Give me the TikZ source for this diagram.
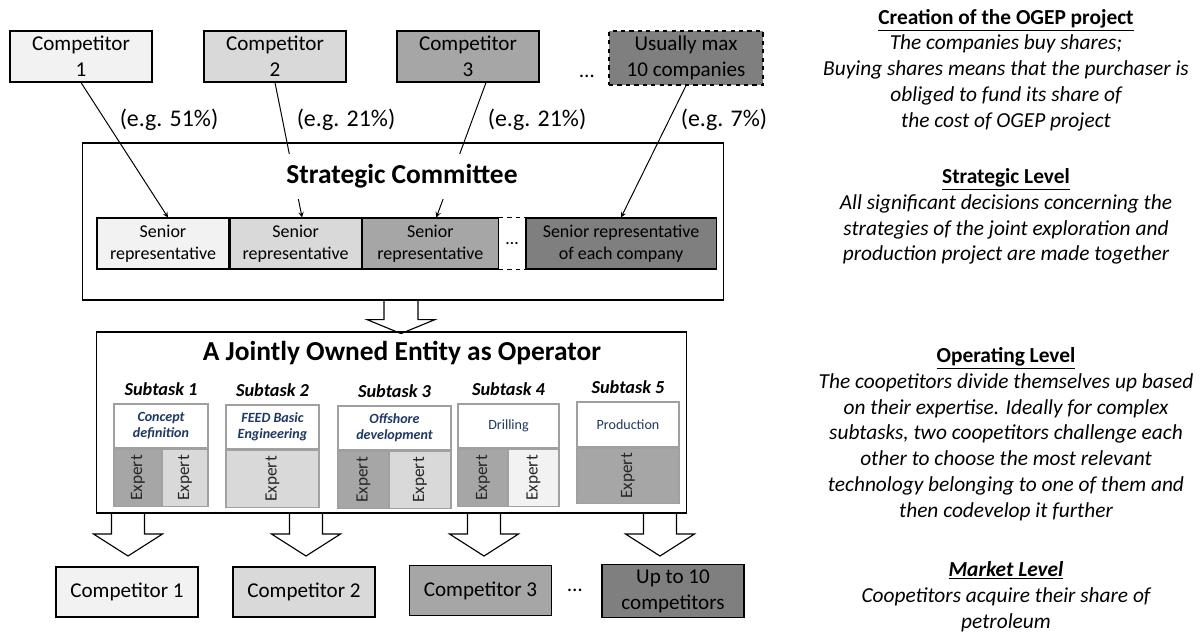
\documentclass[tikz,border=0pt]{standalone}
\usepackage{fontspec}
\setmainfont{Carlito}
\usepackage{xcolor}
\usepackage{tikz}
\usetikzlibrary{positioning}
\definecolor{shadeA}{HTML}{F2F2F2}
\definecolor{shadeB}{HTML}{D9D9D9}
\definecolor{shadeC}{HTML}{A6A6A6}
\definecolor{shadeD}{HTML}{7F7F7F}
\definecolor{taskblue}{HTML}{1F3864}
\definecolor{edgegray}{HTML}{A0A0A0}

\begin{document}
\begin{tikzpicture}[
    x=0.025cm, y=-0.025cm,
    box/.style={rectangle, draw, line width=0.8pt, align=center},
    comp/.style={box, minimum width=3.55cm, minimum height=1.275cm, font=\fontsize{15}{18.5}\selectfont},
    rep/.style={box, minimum height=1.275cm, inner sep=1pt, font=\fontsize{12.8}{15.6}\selectfont},
    share/.style={font=\fontsize{17}{20}\selectfont},
    heading/.style={font=\fontsize{19.5}{23}\selectfont\bfseries},
    subtask/.style={font=\fontsize{13}{15}\selectfont\bfseries\itshape},
    task/.style={rectangle, draw=edgegray, line width=1pt, fill=white, text=taskblue, align=center, minimum height=1.1cm, inner sep=1pt, font=\fontsize{10}{11.5}\selectfont\bfseries\itshape},
    expert/.style={rectangle, draw=edgegray, line width=1pt, minimum height=1.425cm, inner sep=0pt, text=black!85, font=\fontsize{12.3}{14}\selectfont},
    note/.style={align=center, font=\fontsize{15.2}{18.3}\selectfont\itshape},
    arrow/.style={-stealth, line width=0.7pt},
    hollow/.style={draw, line width=0.8pt, line join=miter}
]
\useasboundingbox (0,0) rectangle (1203,633);

\node[comp, fill=shadeA] (c1) at (81,56.5) {Competitor\\ 1};
\node[comp, fill=shadeB] (c2) at (275,56.5) {Competitor\\ 2};
\node[comp, fill=shadeC] (c3) at (468,56.5) {Competitor\\ 3};
\node[comp, fill=shadeD, dashed, minimum width=3.85cm, minimum height=1.35cm] (cmax) at (686,58) {Usually max\\ 10 companies};
\node[font=\fontsize{15}{18}\selectfont] (topdots) at (587,76) {…};

\node[share] (p1) at (169,120) {(e.g. 51\%)};
\node[share] (p2) at (346,120) {(e.g. 21\%)};
\node[share] (p3) at (537,120) {(e.g. 21\%)};
\node[share] (p4) at (724,120) {(e.g. 7\%)};

\node[box, minimum width=16cm, minimum height=3.925cm] (sc) at (403,221.5) {};
\node[rep, fill=shadeA, minimum width=3.3cm] (sr1) at (163,243.5) {Senior\\ representative};
\node[rep, fill=shadeB, minimum width=3.275cm, right=0pt of sr1] (sr2) {Senior\\ representative};
\node[rep, fill=shadeC, minimum width=3.4cm, right=0pt of sr2] (sr3) {Senior\\ representative};
\node[minimum width=0.65cm, minimum height=1.275cm, inner sep=0pt, right=0pt of sr3, font=\fontsize{12.8}{15}\selectfont] (repdots) {…};
\node[rep, fill=shadeD, minimum width=4.75cm, right=0pt of repdots] (sr4) {Senior representative\\ of each company};
\draw[dashed, line width=0.8pt] (sr3.north east) -- (sr4.north west) (sr3.south east) -- (sr4.south west);

\draw[arrow] (c1.south) -- ([xshift=0.125cm]sr1.north);
\draw[arrow] (c2.south) -- ([xshift=0.16cm]sr2.north);
\draw[arrow] ([xshift=0.45cm]c3.south) -- ([xshift=0.15cm]sr3.north);
\draw[arrow] (cmax.south) -- (sr4.north);
\node[heading, fill=white, minimum height=1.125cm, inner xsep=2pt] (sctitle) at (402,176.5) {Strategic Committee};

\node[box, minimum width=14.725cm, minimum height=4.525cm] (op) at (391.5,422.5) {};
\node[heading] (optitle) at (402,353) {A Jointly Owned Entity as Operator};

\node[task, minimum width=2.35cm] (t1) at (161,426) {Concept\\ definition};
\node[subtask, above=2pt of t1] (s1) {Subtask 1};
\node[expert, fill=shadeC, minimum width=1.2cm, anchor=north west] (e1a) at (t1.south west) {\rotatebox{90}{Expert}};
\node[expert, fill=shadeB, minimum width=1.15cm, anchor=north east] (e1b) at (t1.south east) {\rotatebox{90}{Expert}};

\node[task, minimum width=2.325cm] (t2) at (272.5,427) {FEED Basic\\ Engineering};
\node[subtask, above=2pt of t2] (s2) {Subtask 2};
\node[expert, fill=shadeB, minimum width=2.325cm, anchor=north] (e2) at (t2.south) {\rotatebox{90}{Expert}};

\node[task, minimum width=2.825cm] (t3) at (394.5,428) {Offshore\\ development};
\node[subtask, above=2pt of t3] (s3) {Subtask 3};
\node[expert, fill=shadeC, minimum width=1.275cm, anchor=north west] (e3a) at (t3.south west) {\rotatebox{90}{Expert}};
\node[expert, fill=shadeB, minimum width=1.55cm, anchor=north east] (e3b) at (t3.south east) {\rotatebox{90}{Expert}};

\node[task, minimum width=2.525cm, font=\fontsize{10}{11.5}\selectfont] (t4) at (508.5,426) {Drilling};
\node[subtask, above=2pt of t4] (s4) {Subtask 4};
\node[expert, fill=shadeC, minimum width=1.25cm, anchor=north west] (e4a) at (t4.south west) {\rotatebox{90}{Expert}};
\node[expert, fill=shadeA, minimum width=1.275cm, anchor=north east] (e4b) at (t4.south east) {\rotatebox{90}{Expert}};

\node[task, minimum width=2.55cm, minimum height=1.125cm, font=\fontsize{10}{11.5}\selectfont] (t5) at (628,424.5) {Production};
\node[subtask, above=2pt of t5] (s5) {Subtask 5};
\node[expert, fill=shadeC, minimum width=2.55cm, minimum height=1.375cm, anchor=north] (e5) at (t5.south) {\rotatebox{90}{Expert}};

\draw[hollow] ([xshift=-0.475cm]sc.south) -- ++(0,19) -- ++(-17,0) -- ++(34,14) -- ++(34,-14) -- ++(-17,0) -- ++(0,-19);
\foreach \x in {128,306,484,660}
    \draw[hollow] (\x-16.5,513) -- ++(0,21) -- ++(-18,0) -- ++(34.5,22) -- ++(34.5,-22) -- ++(-18,0) -- ++(0,-21);

\node[comp, minimum height=1.25cm, fill=shadeA] (b1) at (127,592) {Competitor 1};
\node[comp, minimum height=1.25cm, fill=shadeB] (b2) at (304,592) {Competitor 2};
\node[comp, minimum height=1.25cm, fill=shadeC] (b3) at (480.5,590.5) {Competitor 3};
\node[font=\fontsize{15}{18}\selectfont] (botdots) at (575,590) {…};
\node[comp, minimum height=1.25cm, fill=shadeD] (b4) at (673,591) {Up to 10\\ competitors};

\node[note] (ncreate) at (1006,70) {\underline{\textup{\textbf{Creation of the OGEP project}}}\\ The companies buy shares;\\ Buying shares means that the purchaser is\\ obliged to fund its share of\\ the cost of OGEP project};
\node[note] (nstrat) at (1006,216.5) {\underline{\textup{\textbf{Strategic Level}}}\\ All significant decisions concerning the\\ strategies of the joint exploration and\\ production project are made together};
\node[note] (noper) at (1006,434) {\underline{\textup{\textbf{Operating Level}}}\\ The coopetitors divide themselves up based\\ on their expertise. Ideally for complex\\ subtasks, two coopetitors challenge each\\ other to choose the most relevant\\ technology belonging to one of them and\\ then codevelop it further};
\node[note] (nmarket) at (1006,596.5) {\underline{\textbf{Market Level}}\\ Coopetitors acquire their share of\\ petroleum};

\end{tikzpicture}
\end{document}
